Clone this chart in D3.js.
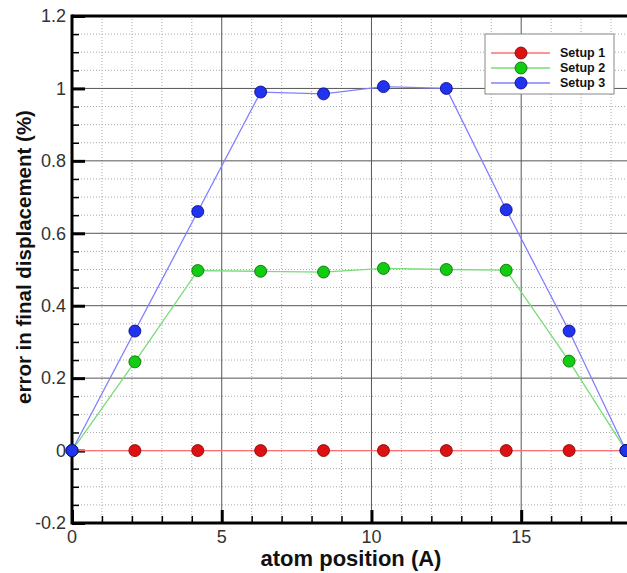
<!DOCTYPE html>
<html>
<head>
<meta charset="utf-8">
<script src="https://cdn.jsdelivr.net/npm/d3@7"></script>
<style>
	body { margin: 0; background: #fff; }
	svg { display: block; font-family: Arial, "Liberation Sans", sans-serif; }
</style>
</head>
<body>
<script>
var positions = [0, 2.1, 4.2, 6.3, 8.4, 10.4, 12.5, 14.5, 16.6, 18.5];
var setup1 = [0, 0, 0, 0, 0, 0, 0, 0, 0, 0];
var setup2 = [0, 0.245, 0.497, 0.495, 0.493, 0.503, 0.5, 0.498, 0.247, 0];
var setup3 = [0, 0.33, 0.66, 0.99, 0.985, 1.005, 1.0, 0.665, 0.33, 0];
var seriesNames = ['Setup 1', 'Setup 2', 'Setup 3'];
var xTicks = [0, 5, 10, 15];
var yTicks = [-0.2, 0, 0.2, 0.4, 0.6, 0.8, 1, 1.2];

function renderCanvas(h, w) {
	var svg = d3.select('body')
		.append('svg')
		.attr('height', h)
		.attr('width', w);
	return svg;
}

function seriesColor(i) {
	return ['#dd1111', '#11cc11', '#2233ee'][i];
}
function seriesStroke(i) {
	return ['#770000', '#006600', '#000088'][i];
}
function seriesLine(i) {
	return ['#ff7070', '#77dd77', '#8080ff'][i];
}

function renderChart() {
	var w = 627, h = 573;
	var left = 72, right = 626, top = 16, bottom = 523;

	var svg = renderCanvas(h, w);

	var x = d3.scaleLinear().domain([0, 18.5]).range([left, right]);
	var y = d3.scaleLinear().domain([-0.2, 1.2]).range([bottom, top]);

	// minor grid
	var xMinor = d3.range(1, 19).filter(function(d) { return d % 5 !== 0; });
	var yMinor = d3.range(-0.15, 1.2, 0.05).filter(function(d) {
		return Math.abs(Math.round(d * 5) - d * 5) > 0.01;
	});

	svg.append('g').selectAll('line')
		.data(xMinor)
		.enter()
		.append('line')
		.attr('x1', function(d) { return x(d); })
		.attr('x2', function(d) { return x(d); })
		.attr('y1', top)
		.attr('y2', bottom)
		.attr('stroke', '#aaa')
		.attr('stroke-dasharray', '1,2');

	svg.append('g').selectAll('line')
		.data(yMinor)
		.enter()
		.append('line')
		.attr('x1', left)
		.attr('x2', w)
		.attr('y1', function(d) { return y(d); })
		.attr('y2', function(d) { return y(d); })
		.attr('stroke', '#aaa')
		.attr('stroke-dasharray', '1,2');

	// major grid
	svg.append('g').selectAll('line')
		.data([5, 10, 15])
		.enter()
		.append('line')
		.attr('x1', function(d) { return x(d); })
		.attr('x2', function(d) { return x(d); })
		.attr('y1', top)
		.attr('y2', bottom)
		.attr('stroke', '#555')
		.attr('stroke-width', 1);

	svg.append('g').selectAll('line')
		.data([0, 0.2, 0.4, 0.6, 0.8, 1])
		.enter()
		.append('line')
		.attr('x1', left)
		.attr('x2', w)
		.attr('y1', function(d) { return y(d); })
		.attr('y2', function(d) { return y(d); })
		.attr('stroke', '#555')
		.attr('stroke-width', 1);

	// axes (inward ticks)
	var xAxisMinor = d3.axisTop(x).tickValues(xMinor).tickSize(7).tickFormat('');
	var xAxisMajor = d3.axisTop(x).tickValues(xTicks).tickSize(13).tickFormat('');
	var yAxisMinor = d3.axisRight(y).tickValues(yMinor).tickSize(7).tickFormat('');
	var yAxisMajor = d3.axisRight(y).tickValues(yTicks).tickSize(13).tickFormat('');

	var gxm = svg.append('g').attr('transform', 'translate(0,' + bottom + ')').call(xAxisMinor);
	gxm.selectAll('line').attr('stroke', '#000').attr('stroke-width', 1.5);
	var gxM = svg.append('g').attr('transform', 'translate(0,' + bottom + ')').call(xAxisMajor);
	gxM.selectAll('line').attr('stroke', '#000').attr('stroke-width', 3);
	var gym = svg.append('g').attr('transform', 'translate(' + left + ',0)').call(yAxisMinor);
	gym.selectAll('line').attr('stroke', '#000').attr('stroke-width', 1.5);
	var gyM = svg.append('g').attr('transform', 'translate(' + left + ',0)').call(yAxisMajor);
	gyM.selectAll('line').attr('stroke', '#000').attr('stroke-width', 3);
	svg.selectAll('.domain').remove();

	// frame
	svg.append('line').attr('x1', left).attr('x2', w).attr('y1', bottom).attr('y2', bottom)
		.attr('stroke', '#000').attr('stroke-width', 3);
	svg.append('line').attr('x1', left).attr('x2', w).attr('y1', top).attr('y2', top)
		.attr('stroke', '#000').attr('stroke-width', 3);
	svg.append('line').attr('x1', left).attr('x2', left).attr('y1', top - 1.5).attr('y2', bottom + 1.5)
		.attr('stroke', '#000').attr('stroke-width', 3);

	// tick labels
	svg.append('g').selectAll('text')
		.data(xTicks)
		.enter()
		.append('text')
		.attr('x', function(d) { return x(d); })
		.attr('y', 543)
		.attr('text-anchor', 'middle')
		.attr('font-size', 18)
		.attr('fill', '#333')
		.text(function(d) { return d; });

	svg.append('g').selectAll('text')
		.data(yTicks)
		.enter()
		.append('text')
		.attr('x', left - 6)
		.attr('y', function(d) { return y(d); })
		.attr('dy', '0.35em')
		.attr('text-anchor', 'end')
		.attr('font-size', 18)
		.attr('fill', '#333')
		.text(function(d) { return d; });

	// axis titles
	svg.append('text')
		.attr('x', 351)
		.attr('y', 566)
		.attr('text-anchor', 'middle')
		.attr('font-size', 22)
		.attr('font-weight', 'bold')
		.attr('fill', '#111')
		.text('atom position (A)');

	svg.append('text')
		.attr('transform', 'translate(31,257) rotate(-90)')
		.attr('text-anchor', 'middle')
		.attr('font-size', 20.5)
		.attr('font-weight', 'bold')
		.attr('fill', '#111')
		.text('error in final displacement (%)');

	// series
	var series = [setup1, setup2, setup3];
	var line = d3.line()
		.x(function(d, i) { return x(positions[i]); })
		.y(function(d) { return y(d); });

	series.forEach(function(vals, s) {
		svg.append('path')
			.datum(vals)
			.attr('d', line)
			.attr('fill', 'none')
			.attr('stroke', seriesLine(s))
			.attr('stroke-width', 1.3);
	});

	series.forEach(function(vals, s) {
		svg.append('g').selectAll('circle')
			.data(vals)
			.enter()
			.append('circle')
			.attr('cx', function(d, i) { return x(positions[i]); })
			.attr('cy', function(d) { return y(d); })
			.attr('r', 6)
			.attr('fill', seriesColor(s))
			.attr('stroke', seriesStroke(s))
			.attr('stroke-width', 0.8);
	});

	// legend
	var lg = svg.append('g').attr('transform', 'translate(485,34)');
	lg.append('rect')
		.attr('width', 129)
		.attr('height', 60)
		.attr('fill', '#fff')
		.attr('stroke', '#888')
		.attr('stroke-width', 1);

	var rows = lg.selectAll('g.row')
		.data(seriesNames)
		.enter()
		.append('g')
		.attr('class', 'row')
		.attr('transform', function(d, i) { return 'translate(0,' + (19 + i * 15) + ')'; });

	rows.append('line')
		.attr('x1', 6)
		.attr('x2', 65)
		.attr('stroke', function(d, i) { return seriesLine(i); })
		.attr('stroke-width', 1.3);
	rows.append('circle')
		.attr('cx', 36)
		.attr('r', 6)
		.attr('fill', function(d, i) { return seriesColor(i); })
		.attr('stroke', function(d, i) { return seriesStroke(i); })
		.attr('stroke-width', 0.8);
	rows.append('text')
		.attr('x', 75)
		.attr('dy', '0.35em')
		.attr('font-size', 12.5)
		.attr('font-weight', 'bold')
		.attr('fill', '#111')
		.text(function(d) { return d; });
}

renderChart();
</script>
</body>
</html>
